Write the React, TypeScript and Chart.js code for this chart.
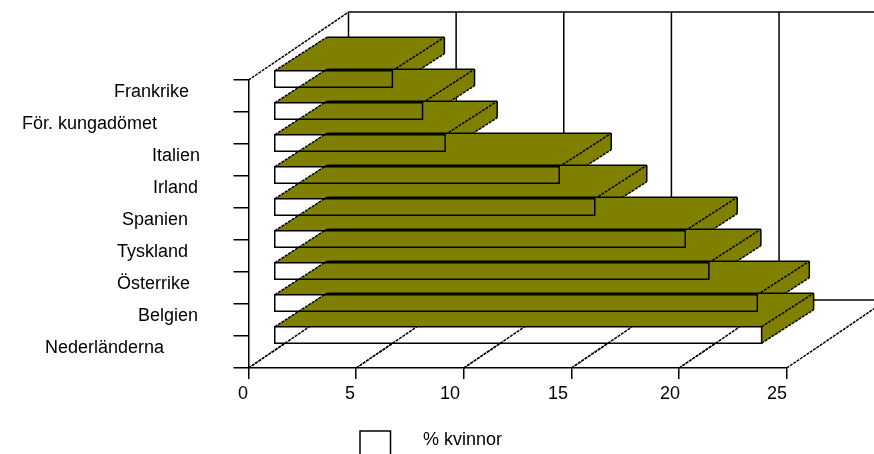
import React, { useEffect, useRef } from "react";
import { Chart, registerables } from "chart.js";

Chart.register(...registerables);

const categories = ["Frankrike", "För. kungadömet", "Italien", "Irland", "Spanien", "Tyskland", "Österrike", "Belgien", "Nederländerna"];
const womenShare = [5.5, 6.9, 7.95, 13.25, 14.9, 19.1, 20.2, 22.45, 22.65];
const seriesName = "% kvinnor";
const xTicks = [0, 5, 10, 15, 20, 25];

// Layout of the hand-placed labels in the reference
const categoryLabelRight = [189, 157, 200, 198, 188, 188, 190, 198, 164];
const xLabelRight = [248, 355, 460, 568, 680, 787];

const INK = "#000000";
const OLIVE = "#808000";
const FONT = "'Liberation Sans', Arial, sans-serif";
const FONT_SIZE = 18;
const LINE = 1.5;
const DASH = [3, 1];

const WALL = { dx: 100, dy: -68 };
const FRONT = { dx: 25.5, dy: -17 };
const BAR = { dx: 52, dy: -33.5 };

const threeD = {
  id: "threeD",
  beforeDraw(chart: any) {
    const { x, y } = chart.scales;
    y.getLabelItems(chart.chartArea).forEach((item: any, i: number) => {
      item.options.textAlign = "right";
      item.options.translation = [categoryLabelRight[i], y.getPixelForTick(i) - 3.5];
    });
    x.getLabelItems(chart.chartArea).forEach((item: any, i: number) => {
      item.options.textAlign = "right";
      item.options.translation = [xLabelRight[i], item.options.translation[1]];
    });
  },
  beforeDatasetsDraw(chart: any) {
    const { ctx, chartArea: a, width } = chart;
    const xs = chart.scales.x;
    ctx.save();
    ctx.strokeStyle = INK;
    ctx.lineWidth = LINE;
    const line = (x1: number, y1: number, x2: number, y2: number, dash: number[] = []) => {
      ctx.setLineDash(dash);
      ctx.beginPath();
      ctx.moveTo(x1, y1);
      ctx.lineTo(x2, y2);
      ctx.stroke();
    };
    const backTop = a.top + WALL.dy;
    const backBottom = a.bottom + WALL.dy;
    line(a.left, a.top, a.left + WALL.dx, backTop, DASH);
    line(a.left + WALL.dx, backTop, width, backTop);
    line(a.left + WALL.dx, backBottom, width, backBottom);
    xTicks.forEach((v) => {
      const px = xs.getPixelForValue(v);
      line(px + WALL.dx, backTop, px + WALL.dx, backBottom);
      line(px, a.bottom, px + WALL.dx, backBottom, DASH);
    });
    ctx.restore();
  },
  beforeDatasetDraw(chart: any, args: any) {
    const { ctx, chartArea: a } = chart;
    const xs = chart.scales.x;
    const meta = args.meta;
    const boxes = meta.data.map((el: any) => {
      const p = el.getProps(["x", "y", "base", "height"], true);
      return { el, left: p.base, right: p.x, top: p.y - p.height / 2, bottom: p.y + p.height / 2 };
    });
    ctx.save();
    ctx.translate(FRONT.dx, FRONT.dy);
    ctx.strokeStyle = INK;
    ctx.lineWidth = LINE;
    const seg = (x1: number, y1: number, x2: number, y2: number, dash: number[] = []) => {
      ctx.setLineDash(dash);
      ctx.beginPath();
      ctx.moveTo(x1, y1);
      ctx.lineTo(x2, y2);
      ctx.stroke();
    };
    const fillQuad = (pts: number[][]) => {
      ctx.fillStyle = OLIVE;
      ctx.beginPath();
      pts.forEach(([px, py], i) => (i ? ctx.lineTo(px, py) : ctx.moveTo(px, py)));
      ctx.closePath();
      ctx.fill();
    };
    boxes.forEach(({ el, left, right, top, bottom }: any) => {
      const backTop = top + BAR.dy;
      const backBottom = bottom + BAR.dy;
      el.draw(ctx, chart.chartArea);
      fillQuad([[left, top], [left + BAR.dx, backTop], [right + BAR.dx, backTop], [right, top]]);
      fillQuad([[right, top], [right + BAR.dx, backTop], [right + BAR.dx, backBottom], [right, bottom]]);
      seg(left + BAR.dx, backTop, right + BAR.dx, backTop);
      seg(right + BAR.dx, backTop, right + BAR.dx, backBottom);
      seg(left, top, left + BAR.dx, backTop, DASH);
      seg(right, top, right + BAR.dx, backTop, DASH);
      seg(right, bottom, right + BAR.dx, backBottom, DASH);
    });
    // Floor lines show through the white front face of the lowest bar
    const lowest = boxes[boxes.length - 1];
    const share = (a.bottom - (lowest.top + FRONT.dy)) / -WALL.dy;
    xTicks.forEach((v) => {
      const px = xs.getPixelForValue(v);
      if (px + WALL.dx * share < lowest.right + FRONT.dx) {
        seg(px - FRONT.dx, a.bottom - FRONT.dy, px + WALL.dx * share - FRONT.dx, lowest.top, DASH);
      }
    });
    // Front-face outlines stay visible over the neighbouring bar's top face
    ctx.setLineDash([]);
    boxes.forEach(({ left, right, top, bottom }: any) => {
      ctx.strokeRect(left, top, right - left, bottom - top);
    });
    ctx.restore();
    return false;
  },
  afterDraw(chart: any) {
    const { ctx } = chart;
    const ds = chart.data.datasets[0];
    ctx.save();
    ctx.fillStyle = ds.backgroundColor;
    ctx.strokeStyle = INK;
    ctx.lineWidth = LINE;
    ctx.fillRect(360, 431, 30.5, 24);
    ctx.strokeRect(360, 431, 30.5, 24);
    ctx.fillStyle = INK;
    ctx.font = `${FONT_SIZE}px ${FONT}`;
    ctx.textAlign = "left";
    ctx.textBaseline = "middle";
    ctx.fillText(ds.label, 423, 440);
    ctx.restore();
  },
};

export default function App() {
  const ref = useRef<HTMLCanvasElement>(null);
  useEffect(() => {
    document.body.style.margin = "0";
    const chart = new Chart(ref.current as HTMLCanvasElement, {
      type: "bar",
      data: {
        labels: categories,
        datasets: [
          {
            label: seriesName,
            data: womenShare,
            backgroundColor: "#ffffff",
            borderWidth: 0,
            categoryPercentage: 0.515,
            barPercentage: 1,
          },
        ],
      },
      options: {
        indexAxis: "y",
        animation: false,
        responsive: false,
        devicePixelRatio: 1,
        layout: { padding: { top: 80, right: 87.3, left: 0, bottom: 0 } },
        plugins: { legend: { display: false }, tooltip: { enabled: false } },
        scales: {
          x: {
            type: "linear",
            min: 0,
            max: 25,
            afterFit: (s: any) => {
              s.height = 86;
            },
            afterBuildTicks: (s: any) => {
              s.ticks = xTicks.map((value) => ({ value }));
            },
            grid: { drawOnChartArea: false, color: INK, lineWidth: LINE, tickLength: 11 },
            border: { color: INK, width: LINE },
            ticks: { color: INK, font: { family: FONT, size: FONT_SIZE }, padding: 4, maxRotation: 0, autoSkip: false },
          },
          y: {
            type: "category",
            afterFit: (s: any) => {
              s.width = 248.5;
            },
            grid: { drawOnChartArea: false, color: INK, lineWidth: LINE, tickLength: 15 },
            border: { color: INK, width: LINE },
            ticks: { color: INK, font: { family: FONT, size: FONT_SIZE }, autoSkip: false },
          },
        },
      },
      plugins: [threeD],
    } as any);
    return () => chart.destroy();
  }, []);
  return <canvas ref={ref} width={874} height={454} style={{ display: "block" }} />;
}
